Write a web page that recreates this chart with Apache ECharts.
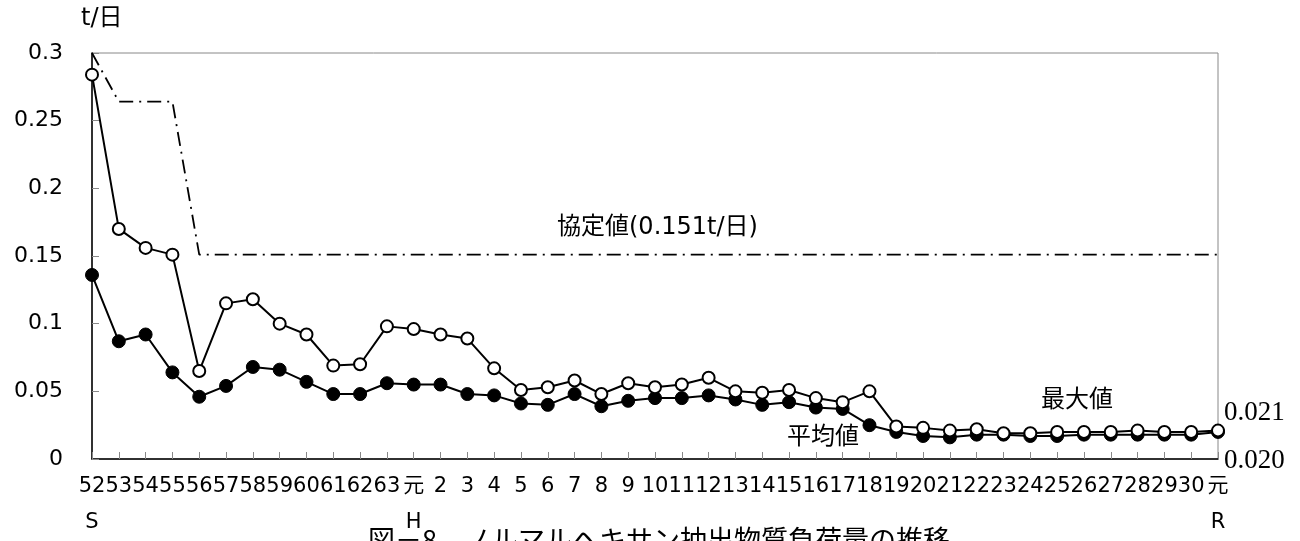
<!DOCTYPE html>
<html>
<head>
<meta charset="utf-8">
<script src="https://cdn.jsdelivr.net/npm/echarts@6/dist/echarts.min.js"></script>
<style>
html,body{margin:0;padding:0;background:#fff;}
#chart{width:1300px;height:541px;}
</style>
</head>
<body>
<div id="chart"></div>
<script>
var categories = ['52','53','54','55','56','57','58','59','60','61','62','63','元',
  '2','3','4','5','6','7','8','9','10','11','12','13','14','15','16','17','18','19',
  '20','21','22','23','24','25','26','27','28','29','30','元'];
var eraLabels = {0: 'S', 12: 'H', 42: 'R'};
var maxValues = [0.284,0.170,0.156,0.151,0.065,0.115,0.118,0.100,0.092,0.069,0.070,0.098,0.096,
  0.092,0.089,0.067,0.051,0.053,0.058,0.048,0.056,0.053,0.055,0.060,0.050,0.049,0.051,0.045,0.042,0.050,0.024,
  0.023,0.021,0.022,0.019,0.019,0.020,0.020,0.020,0.021,0.020,0.020,0.021];
var avgValues = [0.136,0.087,0.092,0.064,0.046,0.054,0.068,0.066,0.057,0.048,0.048,0.056,0.055,
  0.055,0.048,0.047,0.041,0.040,0.048,0.039,0.043,0.045,0.045,0.047,0.044,0.040,0.042,0.038,0.037,0.025,0.020,
  0.017,0.016,0.018,0.018,0.017,0.017,0.018,0.018,0.018,0.018,0.018,0.020];
var agreementValues = [0.3,0.264,0.264,0.264,0.151,0.151,0.151,0.151,0.151,0.151,0.151,0.151,0.151,
  0.151,0.151,0.151,0.151,0.151,0.151,0.151,0.151,0.151,0.151,0.151,0.151,0.151,0.151,0.151,0.151,0.151,0.151,
  0.151,0.151,0.151,0.151,0.151,0.151,0.151,0.151,0.151,0.151,0.151,0.151];
var yTicks = {min: 0, max: 0.3, interval: 0.05};
var annotations = {
  unit: 't/日', agreement: '協定値(0.151t/日)', max: '最大値', avg: '平均値',
  lastMax: '0.021', lastAvg: '0.020', title: '図－8　ノルマルヘキサン抽出物質負荷量の推移'
};

var FONT = '"DejaVu Sans", "Noto Sans CJK JP", sans-serif';
var CJK = '"Noto Sans CJK JP", sans-serif';
var chart = echarts.init(document.getElementById('chart'));
chart.setOption({
  animation: false,
  backgroundColor: '#fff',
  grid: {left: 92, right: 82, top: 53, bottom: 78, show: true, borderColor: '#888', borderWidth: 1},
  xAxis: {
    type: 'category', data: categories, boundaryGap: false,
    axisLine: {lineStyle: {color: '#000', width: 1.5}},
    axisTick: {inside: true, length: 7, alignWithLabel: true, interval: 0, lineStyle: {color: '#888'}},
    axisLabel: {
      interval: 0, margin: 10, fontFamily: FONT, fontSize: 21, color: '#000', lineHeight: 36,
      formatter: function (v, i) { return eraLabels[i] ? v + '\n' + eraLabels[i] : v; }
    },
    splitLine: {show: false}
  },
  yAxis: {
    type: 'value', min: yTicks.min, max: yTicks.max, interval: yTicks.interval,
    axisLine: {show: true, lineStyle: {color: '#000', width: 1.5}},
    axisTick: {show: true, inside: true, length: 7, lineStyle: {color: '#888'}},
    axisLabel: {margin: 29, fontFamily: FONT, fontSize: 22, color: '#000'},
    splitLine: {show: false}
  },
  series: [
    {
      name: '協定値', type: 'line', data: agreementValues, symbol: 'none', z: 2,
      lineStyle: {color: '#000', width: 1.8, type: [14, 6, 2, 6]}
    },
    {
      name: '平均値', type: 'line', data: avgValues, symbol: 'circle', symbolSize: 13, z: 3,
      lineStyle: {color: '#000', width: 2},
      itemStyle: {color: '#000', borderColor: '#000', borderWidth: 1}
    },
    {
      name: '最大値', type: 'line', data: maxValues, symbol: 'circle', symbolSize: 12, z: 4,
      lineStyle: {color: '#000', width: 2},
      itemStyle: {color: '#fff', borderColor: '#000', borderWidth: 2}
    }
  ],
  graphic: [
    {type: 'text', left: 81, top: 7, style: {text: annotations.unit, font: '24px ' + FONT, fill: '#000'}},
    {type: 'text', left: 557, top: 216, style: {text: annotations.agreement, font: '24px ' + FONT, fill: '#000'}},
    {type: 'text', left: 1041, top: 386, style: {text: annotations.max, font: '24px ' + CJK, fill: '#000'}},
    {type: 'text', left: 787, top: 423, style: {text: annotations.avg, font: '24px ' + CJK, fill: '#000'}},
    {type: 'text', left: 1224, top: 399, style: {text: annotations.lastMax, font: '27px "Liberation Serif", serif', fill: '#000'}},
    {type: 'text', left: 1224, top: 447, style: {text: annotations.lastAvg, font: '27px "Liberation Serif", serif', fill: '#000'}},
    {type: 'text', left: 368, top: 526, style: {text: annotations.title, font: '27px ' + CJK, fill: '#000'}}
  ]
});
</script>
</body>
</html>
